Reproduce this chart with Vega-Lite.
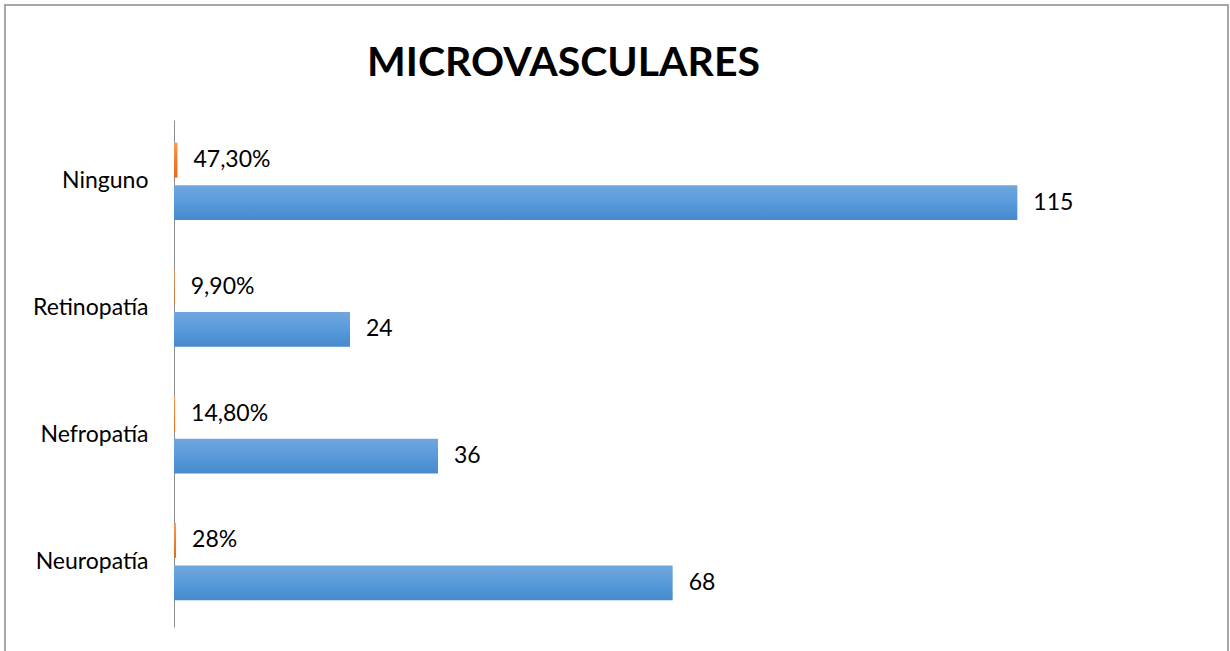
{
  "$schema": "https://vega.github.io/schema/vega-lite/v6.json",
  "width": 1223,
  "height": 650,
  "autosize": {"type": "none"},
  "padding": {"left": 5, "top": 5, "right": 2, "bottom": 0},
  "background": "white",
  "title": {"text": "MICROVASCULARES", "font": "Lato", "fontSize": 41, "fontWeight": "bold", "color": "#000000", "anchor": "start", "frame": "group", "baseline": "alphabetic", "dx": 362, "dy": 42, "offset": -70},
  "config": {"view": {"stroke": "#a6a6a6", "strokeWidth": 2}},
  "data": {"values": [
    {"cat": "Ninguno", "serie": "pct", "value": 0.473, "label": "47,30%"},
    {"cat": "Ninguno", "serie": "n", "value": 115, "label": "115"},
    {"cat": "Retinopatía", "serie": "pct", "value": 0.099, "label": "9,90%"},
    {"cat": "Retinopatía", "serie": "n", "value": 24, "label": "24"},
    {"cat": "Nefropatía", "serie": "pct", "value": 0.148, "label": "14,80%"},
    {"cat": "Nefropatía", "serie": "n", "value": 36, "label": "36"},
    {"cat": "Neuropatía", "serie": "pct", "value": 0.28, "label": "28%"},
    {"cat": "Neuropatía", "serie": "n", "value": 68, "label": "68"}
  ]},
  "encoding": {
    "y": {"field": "cat", "type": "nominal", "sort": ["Ninguno", "Retinopatía", "Nefropatía", "Neuropatía"],
      "scale": {"range": [115, 622], "paddingInner": 0.39, "paddingOuter": 0.195, "align": 0.46},
      "axis": {"title": null, "offset": -169, "ticks": false, "domain": true, "domainColor": "#8c8c8c", "domainWidth": 1, "labelFont": "Lato", "labelFontSize": 23, "labelColor": "#000000", "labelPadding": 26}},
    "yOffset": {"field": "serie", "type": "nominal", "sort": ["pct", "n"], "scale": {"paddingInner": 0.18, "paddingOuter": 0}},
    "x": {"field": "value", "type": "quantitative", "scale": {"domain": [0, 120], "range": [169, 1049], "nice": false}, "axis": null}
  },
  "layer": [
    {
      "transform": [{"filter": "datum.serie === 'n'"}],
      "mark": {"type": "bar", "color": {"gradient": "linear", "x1": 0, "y1": 0, "x2": 0, "y2": 1, "stops": [{"offset": 0, "color": "#71a6dd"}, {"offset": 0.5, "color": "#589bdc"}, {"offset": 1, "color": "#4689cc"}]}}
    },
    {
      "transform": [{"filter": "datum.serie === 'pct'"}],
      "mark": {"type": "bar", "color": {"gradient": "linear", "x1": 0, "y1": 0, "x2": 0, "y2": 1, "stops": [{"offset": 0, "color": "#f49a5a"}, {"offset": 0.5, "color": "#f07f2c"}, {"offset": 1, "color": "#e06d1d"}]}}
    },
    {
      "mark": {"type": "text", "align": "left", "baseline": "middle", "dx": 16, "font": "Lato", "fontSize": 23, "color": "#000000"},
      "encoding": {"text": {"field": "label"}}
    }
  ]
}
